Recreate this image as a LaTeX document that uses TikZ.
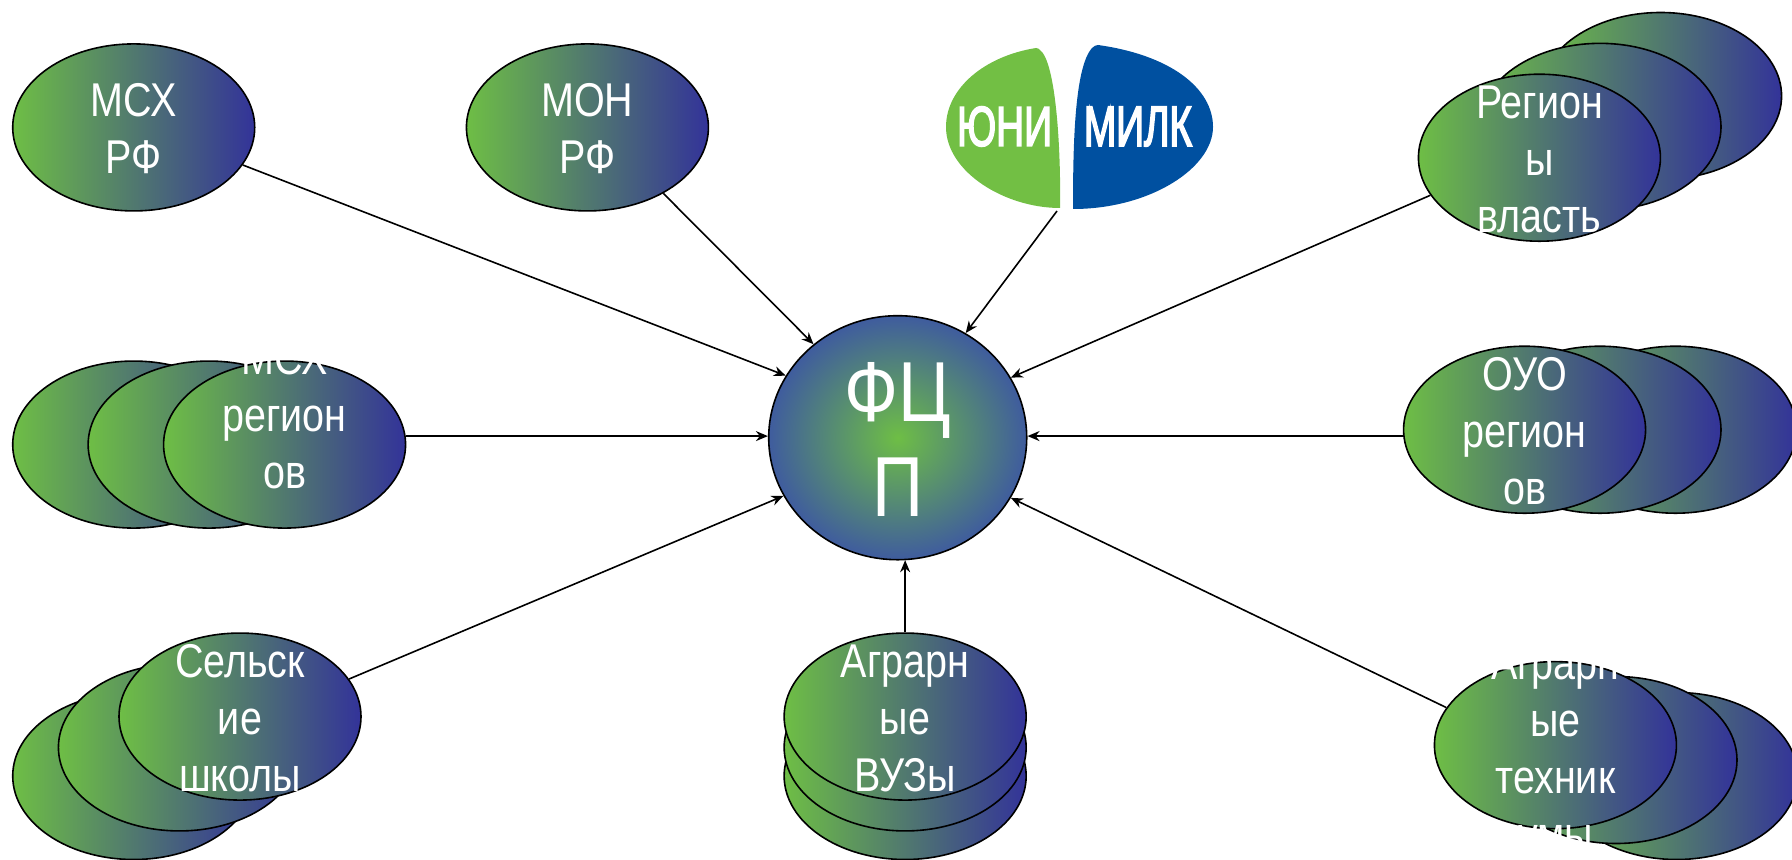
\documentclass[tikz,border=0pt]{standalone}
\usepackage{fontspec}
\usepackage{graphicx}
\setmainfont{Liberation Sans}
\newfontfamily\logofont[BoldFont={Liberation Sans},BoldFeatures={FakeBold=3.5}]{Liberation Sans}
\usetikzlibrary{shapes.geometric,arrows.meta}
\definecolor{gleft}{HTML}{6EBE45}
\definecolor{gright}{HTML}{333399}
\definecolor{gouter}{HTML}{3F5C9E}
\definecolor{logogreen}{HTML}{72BF44}
\definecolor{logoblue}{HTML}{0050A0}
\pgfdeclareradialshading{fcpshade}{\pgfpoint{0bp}{0bp}}{color(0bp)=(gleft); color(25bp)=(gouter); color(50bp)=(gouter)}
\newcommand{\sttxt}[1]{\scalebox{1}[1.2]{\renewcommand{\arraystretch}{1}\begin{tabular}{@{}c@{}}#1\end{tabular}}}
\tikzset{
  oval/.style={ellipse,draw=black,line width=1.6pt,inner sep=0pt,minimum width=242pt,minimum height=167pt,left color=gleft,right color=gright},
  txt/.style={text=white,inner sep=0pt,font=\fontsize{39.5}{47.5}\selectfont},
  bigtxt/.style={text=white,inner sep=0pt,font=\fontsize{71}{79}\selectfont},
  link/.style={line width=1.6pt,-{Stealth[length=12pt,width=10pt]}}
}
\begin{document}
\begin{tikzpicture}[x=1.142857pt,y=-1.142857pt]
\useasboundingbox (0,0) rectangle (1568,752.5);
% logo (full-size pixel coordinates)
\begin{scope}[x=1pt,y=-1pt]
\fill[logogreen] (1036,48) .. controls (985,56) and (946,88) .. (946,127) .. controls (946,172) and (1005,208) .. (1060,208) .. controls (1061,150) and (1056,62) .. (1040,50) .. controls (1039,49) and (1038,48) .. (1036,48) -- cycle;
\fill[logoblue] (1098,45) .. controls (1170,55) and (1213,88) .. (1213,127) .. controls (1213,168) and (1150,209) .. (1073,209) .. controls (1073,150) and (1074,68) .. (1092,48) .. controls (1094,46) and (1096,45) .. (1098,45) -- cycle;
\node[text=white,inner sep=0pt] (logoa) at (1004.5,126.5) {\resizebox{95pt}{39pt}{\logofont\bfseries ЮНИ}};
\node[text=white,inner sep=0pt] (logob) at (1138,126.5) {\resizebox{108pt}{39pt}{\logofont\bfseries МИЛК}};
\coordinate (logoout) at (1057,211);
\end{scope}
% ovals
\node[oval] (msxrf) at (117,111.5) {};
\node[oval] (monrf) at (514,111.5) {};
\node[oval] (regc) at (1453,84) {};
\node[oval] (regb) at (1400,111) {};
\node[oval] (rega) at (1347,138) {};
\node[oval] (msxc) at (117,389) {};
\node[oval] (msxb) at (183,389) {};
\node[oval] (msxa) at (249,389) {};
\node[oval] (ouoc) at (1466,376) {};
\node[oval] (ouob) at (1400,376) {};
\node[oval] (ouoa) at (1334,376) {};
\node[oval] (selc) at (117,679) {};
\node[oval] (selb) at (157,654) {};
\node[oval] (sela) at (210,627) {};
\node[oval] (vuzc) at (792,679) {};
\node[oval] (vuzb) at (792,654) {};
\node[oval] (vuza) at (792,627) {};
\node[oval] (tehc) at (1467,679) {};
\node[oval] (tehb) at (1414,665) {};
\node[oval] (teha) at (1361,652) {};
\node[ellipse,draw=black,line width=1.6pt,inner sep=0pt,minimum width=258pt,minimum height=244pt,shading=fcpshade] (fcp) at (785.5,383) {};
% labels
\node[txt] (tmsxrf) at (117,117) {\sttxt{МСХ\\РФ}};
\node[txt] (tmonrf) at (514,117) {\sttxt{МОН\\РФ}};
\node[txt] (treg) at (1347,144) {\sttxt{Регион\\ы\\власть}};
\node[txt] (tmsx) at (249,368) {\sttxt{МСХ\\регион\\ов}};
\node[txt] (touo) at (1334,382) {\sttxt{ОУО\\регион\\ов}};
\node[txt] (tsel) at (210,633) {\sttxt{Сельск\\ие\\школы}};
\node[txt] (tvuz) at (792,633) {\sttxt{Аграрн\\ые\\ВУЗы}};
\node[txt] (tteh) at (1361,659) {\sttxt{Аграрн\\ые\\техник\\умы}};
\node[bigtxt] (tfcp) at (785.5,394) {\sttxt{ФЦ\\П}};
% connectors
\draw[link] (msxrf.-19.8) -- (fcp.151.3);
\draw[link] (monrf.-41.8) -- (fcp.132.6);
\draw[link] (logoout) -- (fcp.57.7);
\draw[link] (rega.199.9) -- (fcp.28.5);
\draw[link] (msxa.4.35) -- (fcp.west |- msxa.4.35);
\draw[link] (ouoa.183.5) -- (fcp.east |- ouoa.183.5);
\draw[link] (sela.19.2) -- (fcp.207.8);
\draw[link] (vuza.90) -- (vuza.90 |- fcp.-86.5);
\draw[link] (teha.161.6) -- (fcp.-28.5);
\end{tikzpicture}
\end{document}
